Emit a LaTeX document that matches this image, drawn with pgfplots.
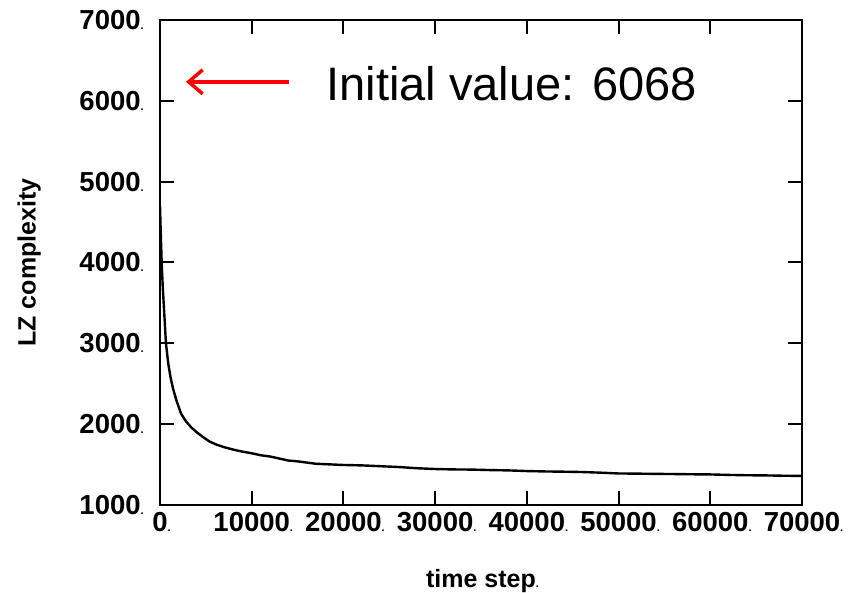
\documentclass[border=0pt]{standalone}
\usepackage{pgfplots}
\pgfplotsset{compat=1.18}
\usepackage{fontspec}
\setmainfont{Liberation Sans}
\usetikzlibrary{arrows.meta}
\begin{document}
\begin{tikzpicture}[x=1pt,y=1pt]
\begin{axis}[
  at={(0pt,0pt)}, anchor=origin,
  scale only axis, width=642pt, height=485pt,
  xmin=0, xmax=70000, ymin=1000, ymax=7000,
  xtick={0,10000,...,70000}, ytick={1000,2000,...,7000},
  line width=2pt,
  major tick style={line width=2pt, black},
  major tick length=14pt,
  tick align=inside,
  /pgf/number format/assume math mode=true,
  /pgf/number format/1000 sep={},
  scaled ticks=false,
  tick label style={font=\fontsize{27.5}{30}\selectfont\bfseries},
  xticklabel={\pgfmathprintnumber{\tick}\rlap{\fontsize{11}{11}\selectfont.}},
  yticklabel={\pgfmathprintnumber{\tick}\rlap{\fontsize{11}{11}\selectfont.}},
  xticklabel style={yshift=-3pt},
  yticklabel style={xshift=-15pt},
  xlabel={time step\rlap{\fontsize{11}{11}\selectfont.}},
  ylabel={LZ complexity},
  label style={font=\fontsize{25}{28}\selectfont\bfseries},
  xlabel style={yshift=-30pt},
  ylabel style={yshift=31pt},
]
\addplot[black, line width=2.4pt] coordinates {
(0,4700) (100,4300) (200,3950) (300,3700) (450,3400) (650,3000) (900,2750)
(1150,2580) (1400,2450) (1800,2290) (2300,2130) (2800,2040) (3400,1960)
(4000,1900) (4700,1840) (5400,1785) (6200,1745) (7000,1715) (8000,1685)
(9000,1660) (10000,1640) (11000,1615) (12000,1600) (13000,1575) (14000,1550)
(15000,1540) (16000,1525) (17000,1510) (18000,1505) (19000,1500) (20000,1495)
(22000,1490) (24000,1480) (26000,1470) (28000,1455) (30000,1445) (32000,1440)
(34000,1438) (36000,1432) (38000,1428) (40000,1420) (42000,1415) (44000,1412)
(46000,1408) (48000,1400) (50000,1390) (52000,1388) (54000,1385) (56000,1383)
(58000,1380) (60000,1378) (62000,1372) (64000,1368) (66000,1366) (68000,1362)
(70000,1360)
};
\draw[red, line width=3.5pt, -{Straight Barb[length=14pt,width=24pt,line width=3.5pt]}]
  (axis cs:14020,6235) -- (axis cs:2830,6235);
\node[anchor=west, font=\fontsize{47}{50}\selectfont, inner sep=0pt]
  at (axis cs:18040,6210) {Initial value: 6068};
\end{axis}
\pgfresetboundingbox
\path[use as bounding box] (-160pt,-88pt) rectangle (688pt,505pt);
\end{tikzpicture}
\end{document}
